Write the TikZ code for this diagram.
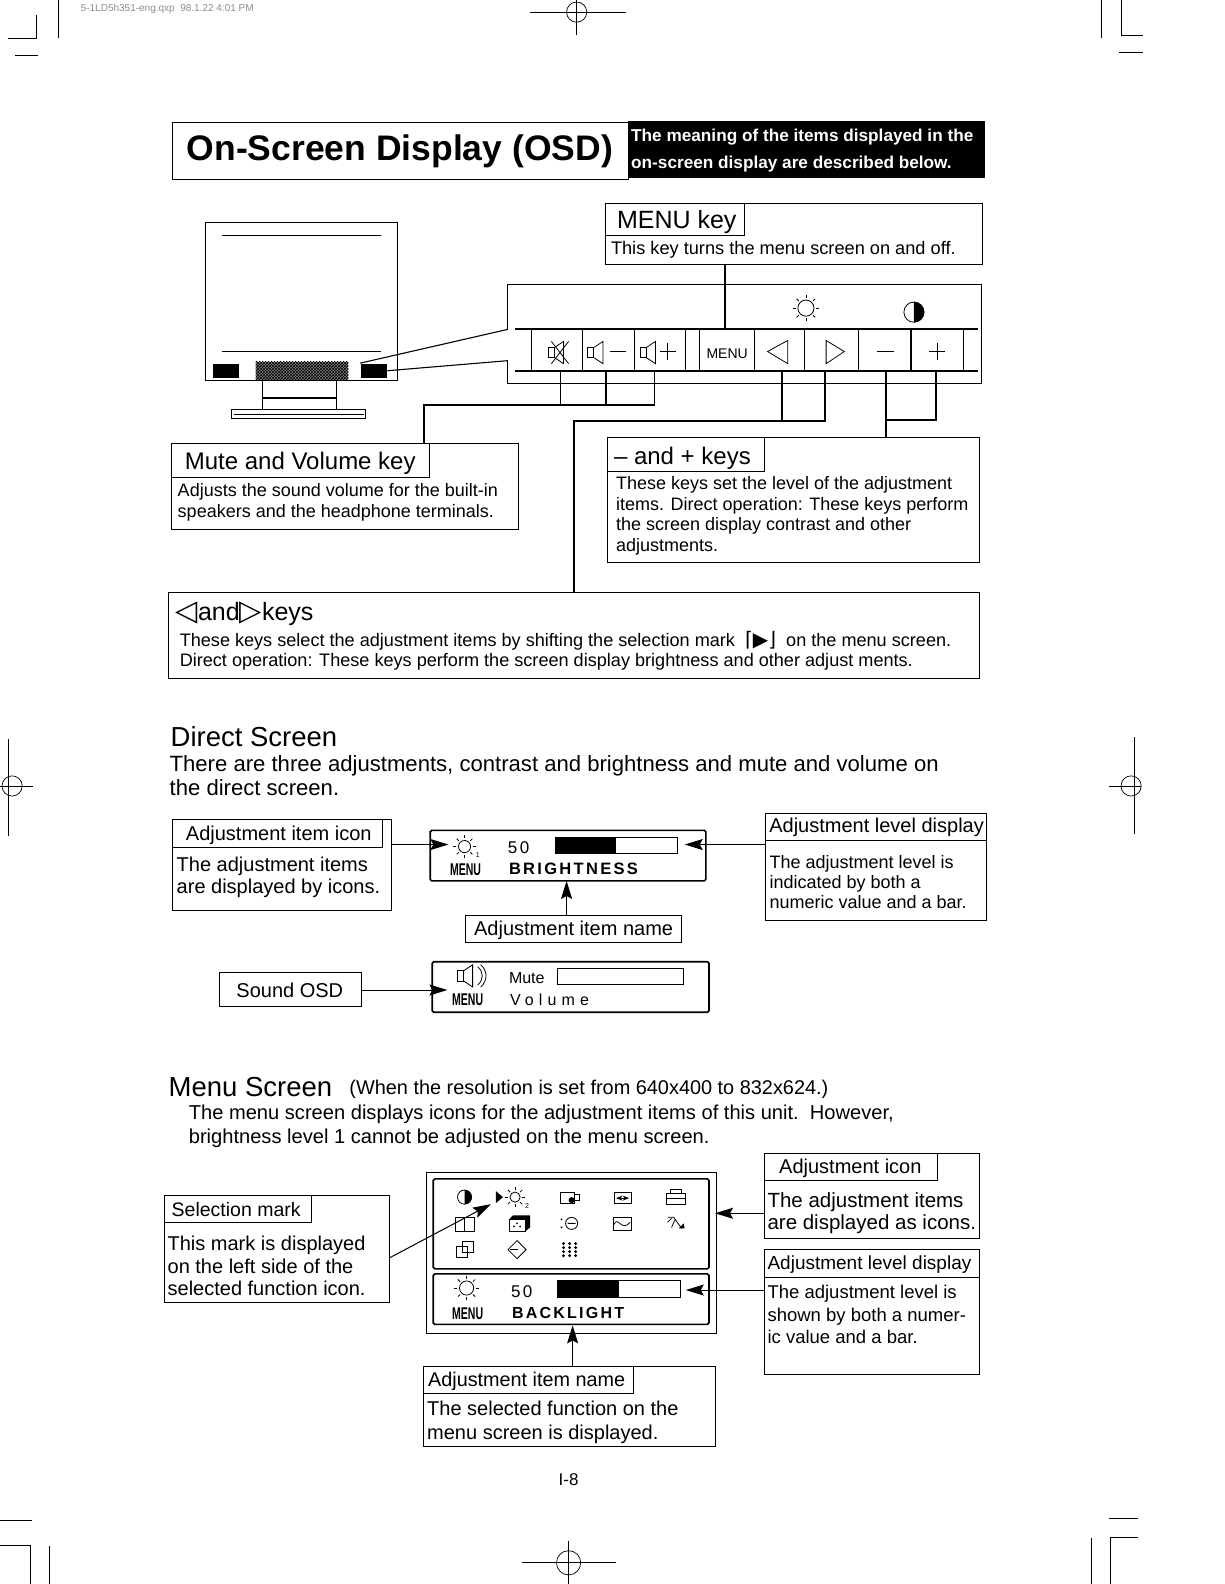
\documentclass[tikz,border=0pt]{standalone}
\usepackage{fontspec}
\setmainfont{Liberation Sans}
\newfontfamily\symbfont{DejaVu Sans}
\newfontfamily\widefont[LetterSpace=14]{Liberation Sans}
\newfontfamily\widerfont[LetterSpace=32]{Liberation Sans}
\usetikzlibrary{arrows.meta,positioning,fit,patterns}
\newcommand{\txtsize}[1]{\fontsize{#1}{#1}\selectfont}
\newcommand{\bodysize}[2]{\fontsize{#1}{#2}\selectfont}
\newcommand{\sunicon}[3]{%
  \draw[icon] (#1,#2) circle (#3);
  \foreach \ang in {0,45,...,315}
    \draw[icon] ([shift={(\ang:#3+2)}]#1,#2) -- ([shift={(\ang:#3+5)}]#1,#2);
}
\newcommand{\halfdisc}[3]{%
  \draw[icon] (#1,#2) circle (#3);
  \fill (#1,#2-#3) arc (-90:90:#3) -- cycle;
}
\newcommand{\spkicon}[2]{%
  \draw[icon] (#1,#2-5) rectangle (#1+6,#2+5);
  \draw[icon] (#1+6,#2-5) -- (#1+15,#2-11) -- (#1+15,#2+11) -- (#1+6,#2+5);
}
\newcommand{\menutag}[1]{\scalebox{0.62}[1]{\bfseries #1}}
\begin{document}
\begin{tikzpicture}[
  x=1.0099pt, y=-1.0102pt,
  line width=1pt,
  frame/.style={draw, inner sep=0pt, outer sep=0pt, line width=1pt},
  osd/.style={draw, inner sep=0pt, outer sep=0pt, line width=1.6pt, rounded corners=1.5pt},
  keybox/.style={draw, inner sep=0pt, outer sep=0pt, line width=1.1pt},
  txt/.style={inner sep=0pt, outer sep=0pt, anchor=west, align=left, yshift=-1.5pt},
  mid/.style={inner sep=0pt, outer sep=0pt, anchor=center, yshift=-1.5pt},
  icon/.style={line width=0.8pt},
  wire/.style={line width=1.8pt},
  thinline/.style={line width=1.1pt},
  arr/.style={-{Stealth[length=18pt,width=11pt,inset=3pt]}, line width=1pt},
  crop/.style={line width=0.7pt}
]
  \useasboundingbox (0,0) rectangle (1212,1568);

  % crop marks
  \draw[crop] (8,38) -- (36,38) -- (36,15);
  \draw[crop] (58,0) -- (58,38);
  \draw[crop] (15,55) -- (38,55);
  \draw[crop] (525,12) -- (620,12) (571,0) -- (571,35);
  \draw[crop] (571,12) circle (10);
  \draw[crop] (1091,0) -- (1091,38);
  \draw[crop] (1110,0) -- (1110,35) -- (1132,35);
  \draw[crop] (1108,52) -- (1132,52);
  \draw[crop] (8,732) -- (8,828) (0,778) -- (33,778);
  \draw[crop] (12,778) circle (10);
  \draw[crop] (1123,730) -- (1123,826) (1098,778) -- (1130,778);
  \draw[crop] (1120,778) circle (10);
  \draw[crop] (0,1505) -- (32,1505);
  \draw[crop] (0,1530) -- (30,1530) -- (30,1568);
  \draw[crop] (49,1530) -- (49,1568);
  \draw[crop] (517,1547) -- (610,1547) (563,1525) -- (563,1568);
  \draw[crop] (563,1547) circle (12);
  \draw[crop] (1098,1503) -- (1127,1503);
  \draw[crop] (1081,1522) -- (1081,1568);
  \draw[crop] (1099,1568) -- (1099,1522) -- (1127,1522);
  \node[txt, text=black!45, font=\txtsize{10}] (slug) at (80,7) {5-1LD5h351-eng.qxp \ 98.1.22 4:01 PM};

  % title
  \node[frame, fit={(171,121) (622,178)}] (titlebox) {};
  \node[fill=black, inner sep=0pt, outer sep=0pt, fit={(622,120) (975,176)}] (titlenote) {};
  \node[txt, font=\txtsize{35.5}\bfseries] (titletxt) at (185,148) {On-Screen Display (OSD)};
  \node[txt, text=white, font=\bodysize{17.2}{27}\bfseries] (notetxt) at (625,148) {The meaning of the items displayed in the\\on-screen display are described below.};

  % monitor
  \node[frame, fit={(203,220) (393,377)}, line width=0.8pt] (monitor) {};
  \draw[thinline] (220,233) -- (377,233);
  \draw[thinline] (220,348) -- (377,348);
  \node[fill=black, inner sep=0pt, fit={(211,360) (237,374)}] (pad1) {};
  \node[pattern=crosshatch, preaction={fill=black!50}, inner sep=0pt, fit={(253,358) (345,376)}] (pad2) {};
  \node[fill=black, inner sep=0pt, fit={(357,360) (383,374)}] (pad3) {};
  \draw[thinline] (260,377) -- (260,405) (333,377) -- (333,405) (260,394) -- (333,394);
  \node[frame, fit={(229,405) (362,414)}, line width=0.8pt] (stand) {};
  \draw[thinline] (232,410) -- (360,410);

  % key panel
  \coordinate (panelup) at (503,326);
  \coordinate (paneldn) at (503,357);
  \draw (panelup) -- (503,282) -- (972,282) -- (972,380) -- (503,380) -- (paneldn);
  \draw[thinline] (pad3.north west) -- (panelup);
  \draw[thinline] (pad3.east) -- (paneldn);
  \draw[wire] (510,326) -- (968,326);
  \draw[wire] (510,367) -- (968,367);
  \foreach \nm/\xa/\xb in {mutekey/526/577, voldn/577/628, volup/628/679, menukey/693/747,
                           leftkey/747/797, rightkey/797/850, minuskey/850/902, pluskey/902/954}
    \node[keybox, fit={(\xa,326) (\xb,367)}] (\nm) {};
  \sunicon{798}{305}{8}
  \halfdisc{905}{309}{10}
  \spkicon{543}{349}
  \draw[icon] (546,338) -- (563,360) (546,360) -- (563,338);
  \spkicon{582}{349}
  \draw[icon] (604,348) -- (620,348);
  \spkicon{634}{349}
  \draw[icon] (654,348) -- (669,348) (661,340) -- (661,356);
  \node[mid, font=\txtsize{14}] (menutxt) at (720,349) {MENU};
  \draw[icon] (780,337) -- (760,348) -- (780,360) -- cycle;
  \draw[icon] (818,337) -- (836,348) -- (818,360) -- cycle;
  \draw[icon] (868,348) -- (885,348);
  \draw[icon] (920,348) -- (936,348) (928,340) -- (928,356);

  % key boxes
  \node[frame, fit={(600,201) (973,262)}] (menubox) {};
  \node[frame, fit={(600,201) (737,233)}] (menuhead) {};
  \node[txt, font=\txtsize{25}] (menutitle) at (611,218) {MENU key};
  \node[txt, font=\txtsize{18.2}] (menubody) at (605,246) {This key turns the menu screen on and off.};

  \node[frame, fit={(170,439) (513,524)}] (mutebox) {};
  \node[frame, fit={(170,439) (425,473)}] (mutehead) {};
  \node[txt, font=\txtsize{24}] (mutetitle) at (183,457) {Mute and Volume key};
  \node[txt, font=\bodysize{18}{21}] (mutebody) at (176,496) {Adjusts the sound volume for the built-in\\speakers and the headphone terminals.};

  \node[frame, fit={(602,433) (970,557)}] (plusbox) {};
  \node[frame, fit={(602,433) (757,467)}] (plushead) {};
  \node[txt, font=\txtsize{24}] (plustitle) at (608,452) {-- and + keys};
  \node[txt, font=\bodysize{18}{20.7}] (plusbody) at (610,509) {These keys set the level of the adjustment\\items. Direct operation: These keys perform\\the screen display contrast and other\\adjustments.};

  \node[frame, fit={(167,587) (970,672)}] (arrowbox) {};
  \node[txt, font=\txtsize{25}] (arrowtitle) at (174,606) {{\symbfont\txtsize{29}◁}and{\symbfont\txtsize{29}▷}keys};
  \node[txt, font=\bodysize{18.1}{20}] (arrowbody) at (178,643) {These keys select the adjustment items by shifting the selection mark \ {\symbfont\txtsize{20}⌈▶⌋} \ on the menu screen.\\Direct operation: These keys perform the screen display brightness and other adjust ments.};

  % connectors of the keys
  \coordinate (tapmenu) at (718,326);
  \draw[wire] (menubox.south -| tapmenu) -- (tapmenu);
  \coordinate (tapa) at (555,367);
  \coordinate (tapb) at (600,367);
  \coordinate (tapc) at (648,367);
  \coordinate (mutecor) at (420,401);
  \draw[wire] (tapa) -- (tapa |- mutecor);
  \draw[wire] (tapb) -- (tapb |- mutecor);
  \draw[wire] (tapc) |- (mutecor) -- (mutecor |- mutebox.north);
  \coordinate (tapl) at (774,367);
  \coordinate (tapr) at (817,367);
  \coordinate (arrowcor) at (568,417);
  \draw[wire] (tapl) -- (tapl |- arrowcor);
  \draw[wire] (tapr) |- (arrowcor) -- (arrowcor |- arrowbox.north);
  \coordinate (tapm) at (877,367);
  \coordinate (tapp) at (927,367);
  \draw[wire] (tapm) -- (tapm |- plusbox.north);
  \draw[wire] (tapp) |- (tapm |- 0,416);

  % direct screen
  \node[txt, font=\txtsize{27.5}] (directhead) at (169,728) {Direct Screen};
  \node[txt, font=\bodysize{22.1}{24}] (directtext) at (168,766) {There are three adjustments, contrast and brightness and mute and volume on\\the direct screen.};

  \node[frame, fit={(171,811) (388,901)}] (iconbox) {};
  \node[frame, fit={(171,811) (379,839)}] (iconhead) {};
  \node[mid, font=\txtsize{20}] (icontitle) at (276,825) {Adjustment item icon};
  \node[txt, font=\bodysize{20}{22}] (iconbody) at (175,867) {The adjustment items\\are displayed by icons.};

  \node[osd, fit={(426,822) (699,872)}] (brightosd) {};
  \sunicon{460}{838}{6}
  \node[mid, font=\txtsize{7}] (brightone) at (473,845) {1};
  \node[mid, font=\txtsize{17}] (brightmenu) at (461,859) {\menutag{MENU}};
  \node[txt, font=\txtsize{17}\widefont] (brightval) at (503,838) {50};
  \node[frame, fit={(550,829) (671,845)}] (brightbar) {};
  \node[fill=black, inner sep=0pt, fit={(550,829) (610,845)}] (brightfill) {};
  \node[txt, font=\txtsize{16.5}\widefont\bfseries] (brightname) at (504,859) {BRIGHTNESS};

  \node[frame, fit={(758,805) (977,911)}] (levelbox) {};
  \node[frame, fit={(758,805) (977,832)}] (levelhead) {};
  \node[mid, font=\txtsize{20}] (leveltitle) at (868,817) {Adjustment level display};
  \node[txt, font=\bodysize{18}{20}] (levelbody) at (762,872) {The adjustment level is\\indicated by both a\\numeric value and a bar.};

  \node[frame, fit={(461,906) (675,933)}] (namebox) {};
  \node[mid, font=\txtsize{20}] (nametitle) at (568,919) {Adjustment item name};

  \node[frame, fit={(217,963) (358,996)}] (soundbox) {};
  \node[mid, font=\txtsize{20}] (soundtitle) at (287,979) {Sound OSD};
  \node[osd, fit={(428,952) (702,1002)}] (soundosd) {};
  \spkicon{453}{966}
  \draw[icon] (473,957) .. controls (479,962) and (479,970) .. (473,975);
  \draw[icon] (476,955) .. controls (483,961) and (483,971) .. (476,977);
  \node[mid, font=\txtsize{17}] (soundmenu) at (463,988) {\menutag{MENU}};
  \node[txt, font=\txtsize{16}] (soundmute) at (504,967) {Mute};
  \node[frame, fit={(552,959) (677,975)}] (soundbar) {};
  \node[txt, font=\txtsize{16}\widerfont] (soundvol) at (505,988) {Volume};

  \coordinate (brightin) at (444,836);
  \coordinate (brightout) at (678,836);
  \coordinate (brightup) at (561,872);
  \coordinate (soundin) at (443,980);
  \draw[arr] (iconbox.east |- brightin) -- (brightin);
  \draw[arr] (levelbox.west |- brightout) -- (brightout);
  \draw[arr] (namebox.north -| brightup) -- (brightup);
  \draw[arr] (soundbox.east |- soundin) -- (soundin);

  % menu screen
  \node[txt, font=\txtsize{27.5}] (menuhd) at (167,1075) {Menu Screen};
  \node[txt, font=\txtsize{19.9}] (menunote) at (346,1077) {(When the resolution is set from 640x400 to 832x624.)};
  \node[txt, font=\bodysize{20.1}{24}] (menutext) at (187,1113) {The menu screen displays icons for the adjustment items of this unit.\ \ However,\\brightness level 1 cannot be adjusted on the menu screen.};

  \node[frame, fit={(422,1161) (709,1320)}, line width=0.8pt] (menuouter) {};
  \node[osd, fit={(429,1167) (702,1256)}] (iconosd) {};
  \node[osd, fit={(429,1261) (702,1311)}] (levelosd) {};

  % menu icons
  \halfdisc{460}{1185}{7}
  \fill (491,1179) -- (498,1185) -- (491,1191) -- cycle;
  \sunicon{510}{1185}{5}
  \node[mid, font=\txtsize{7}] (twosmall) at (522,1192) {2};
  \draw[icon] (555,1180) rectangle (569,1191) (569,1182) rectangle (574,1188);
  \fill (566,1188) circle (3);
  \draw[icon] (608,1180) rectangle (625,1191);
  \draw[icon, <->, >=Stealth] (610,1186) -- (623,1186);
  \draw[icon] (660,1181) rectangle (679,1192) (664,1181) -- (664,1177) -- (675,1177) -- (675,1181) (660,1186) -- (679,1186);
  \draw[icon] (451,1205) rectangle (470,1219) (460,1205) -- (460,1219);
  \draw[icon] (504,1207) rectangle (520,1219);
  \fill (504,1207) -- (508,1203) -- (525,1203) -- (525,1215) -- (520,1219) -- (520,1207) -- cycle;
  \fill (509,1214) circle (1) (515,1214) circle (1) (512,1211) circle (1);
  \draw[icon] (566,1211) circle (6) (562,1211) -- (570,1211);
  \fill (556,1207) circle (1) (556,1215) circle (1);
  \draw[icon] (607,1205) rectangle (625,1218);
  \draw[icon] (608,1212) .. controls (612,1203) and (615,1220) .. (624,1210);
  \draw[icon] (661,1205) -- (667,1205) -- (675,1216) (661,1210) -- (665,1206) (665,1215) -- (668,1208);
  \fill (672,1216) -- (677,1211) -- (678,1216) -- cycle;
  \draw[icon] (452,1234) rectangle (463,1245) (458,1229) rectangle (469,1240);
  \draw[icon] (512,1228) -- (521,1237) -- (512,1246) -- (503,1237) -- cycle;
  \draw[icon, line width=1.4pt] (513,1237) -- (505,1237);
  \foreach \xd in {558,564,570}
    \foreach \yd in {1231,1235,1239,1243}
      \fill (\xd,\yd) circle (1.6);

  \sunicon{462}{1275}{7}
  \node[mid, font=\txtsize{17}] (levelmenu) at (463,1299) {\menutag{MENU}};
  \node[txt, font=\txtsize{17}\widefont] (levelval) at (506,1277) {50};
  \node[frame, fit={(552,1268) (674,1284)}] (levelbar) {};
  \node[fill=black, inner sep=0pt, fit={(552,1268) (613,1284)}] (levelfill) {};
  \node[txt, font=\txtsize{16}\widefont\bfseries] (levelname) at (507,1298) {BACKLIGHT};

  \node[frame, fit={(163,1183) (386,1289)}] (markbox) {};
  \node[frame, fit={(163,1183) (308,1210)}] (markhead) {};
  \node[txt, font=\txtsize{19.5}] (marktitle) at (170,1196) {Selection mark};
  \node[txt, font=\bodysize{20}{22.5}] (markbody) at (166,1252) {This mark is displayed\\on the left side of the\\selected function icon.};

  \node[frame, fit={(757,1142) (970,1226)}] (menuiconbox) {};
  \node[frame, fit={(757,1142) (928,1169)}] (menuiconhead) {};
  \node[mid, font=\txtsize{20}] (menuicontitle) at (842,1155) {Adjustment icon};
  \node[txt, font=\bodysize{20.5}{22}] (menuiconbody) at (760,1199) {The adjustment items\\are displayed as icons.};

  \node[frame, fit={(757,1237) (970,1361)}] (menulevelbox) {};
  \node[frame, fit={(757,1237) (970,1265)}] (menulevelhead) {};
  \node[txt, font=\txtsize{19}] (menuleveltitle) at (760,1250) {Adjustment level display};
  \node[txt, font=\bodysize{18.5}{22.5}] (menulevelbody) at (760,1300) {The adjustment level is\\shown by both a numer-\\ic value and a bar.};

  \node[frame, fit={(419,1353) (708,1432)}] (menunamebox) {};
  \node[frame, fit={(419,1353) (627,1379)}] (menunamehead) {};
  \node[txt, font=\txtsize{19.8}] (menunametitle) at (424,1366) {Adjustment item name};
  \node[txt, font=\bodysize{20}{24}] (menunamebody) at (423,1406) {The selected function on the\\menu screen is displayed.};

  \coordinate (markout) at (386,1245);
  \coordinate (markin) at (486,1192);
  \coordinate (iconin) at (708,1201);
  \coordinate (levelin) at (679,1277);
  \coordinate (namein) at (567,1312);
  \draw[arr] (markout) -- (markin);
  \draw[arr] (menuiconbox.west |- iconin) -- (iconin);
  \draw[arr] (menulevelbox.west |- levelin) -- (levelin);
  \draw[arr] (menunamebox.north -| namein) -- (namein);

  \node[mid, font=\txtsize{17}] (pagenum) at (563,1463) {I-8};
\end{tikzpicture}
\end{document}
